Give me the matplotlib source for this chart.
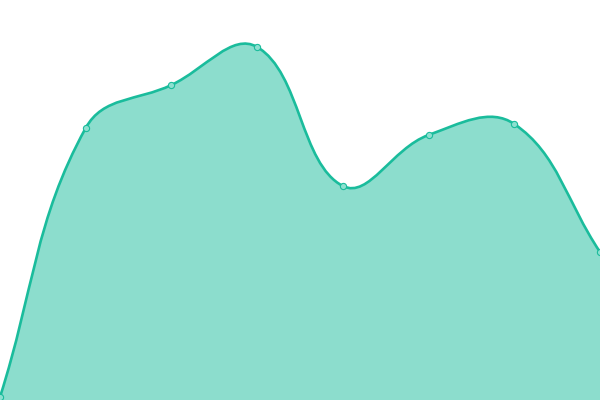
import numpy as np
import matplotlib
matplotlib.use("Agg")
import matplotlib.pyplot as plt
from matplotlib.path import Path
from matplotlib.patches import PathPatch

# values (bottom of canvas = 0)
labels = ["A", "B", "C", "D", "E", "F", "G", "H"]
values = [3, 272, 315, 353, 214, 265, 276, 148]

LINE = "#1abc9c"
FILL = (26 / 255, 188 / 255, 156 / 255, 0.5)
POINT_FILL = "#8de0d0"
TENSION = 0.4

fig = plt.figure(figsize=(6, 4), dpi=100)
ax = fig.add_axes([0, 0, 1, 1])
ax.set_xlim(0, len(values) - 1)
ax.set_ylim(0, 400)
ax.axis("off")

x = np.arange(len(values))
pts = ax.transData.transform(np.column_stack([x, values]))


def spline_controls(p, t):
    """Chart.js style cardinal control points in display space."""
    n = len(p)
    cps = []
    for i in range(n):
        prev = p[max(i - 1, 0)]
        nxt = p[min(i + 1, n - 1)]
        cur = p[i]
        d01 = np.hypot(*(cur - prev))
        d12 = np.hypot(*(nxt - cur))
        tot = d01 + d12
        s01 = d01 / tot if tot else 0
        s12 = d12 / tot if tot else 0
        cp_prev = cur - t * s01 * (nxt - prev)
        cp_next = cur + t * s12 * (nxt - prev)
        cps.append((cp_prev, cp_next))
    return cps


cps = spline_controls(pts, TENSION)
bbox = ax.bbox
for a, b in cps:
    for c in (a, b):
        c[0] = np.clip(c[0], bbox.x0, bbox.x1)
        c[1] = np.clip(c[1], bbox.y0, bbox.y1)

inv = ax.transData.inverted()
verts = [pts[0]]
codes = [Path.MOVETO]
for i in range(1, len(pts)):
    verts += [cps[i - 1][1], cps[i][0], pts[i]]
    codes += [Path.CURVE4] * 3
verts = inv.transform(np.array(verts))

fill_verts = np.vstack([verts, [[x[-1], 0], [x[0], 0], verts[0]]])
fill_codes = codes + [Path.LINETO, Path.LINETO, Path.CLOSEPOLY]
ax.add_patch(PathPatch(Path(fill_verts, fill_codes), facecolor=FILL, edgecolor="none"))
ax.add_patch(PathPatch(Path(verts, codes), facecolor="none", edgecolor=LINE, lw=1.9))

ax.scatter(x, values, s=20, facecolor=POINT_FILL, edgecolor=LINE, linewidth=0.8, zorder=3, clip_on=False)

fig.savefig("out.png", dpi=100)
